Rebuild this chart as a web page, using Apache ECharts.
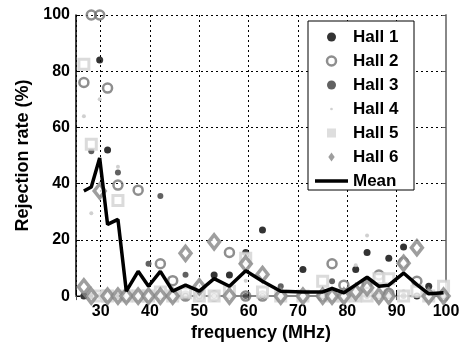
<!DOCTYPE html>
<html>
<head>
<meta charset="utf-8">
<script src="https://cdn.jsdelivr.net/npm/echarts@6/dist/echarts.min.js"></script>
<style>
html, body { margin: 0; padding: 0; background: #fff; }
#chart { width: 463px; height: 347px; }
</style>
</head>
<body>
<div id="chart"></div>
<script>
// measured frequencies (MHz)
const freq = [26.6, 28.1, 29.8, 31.4, 33.5, 35.2, 37.6, 39.7, 42.1, 44.6, 47.2, 50.0, 53.0, 56.1, 59.4,
  62.8, 66.5, 71.0, 75.0, 76.9, 79.3, 81.7, 84.0, 86.4, 88.4, 91.4, 94.1, 96.5, 99.5]

// rejection rate (%) per hall
const hall1 = [0, 0, 84, 52, 0, 0, 0, 0, 0, 0, 0, 0, 7.5, 7.5, 15.5,
  23.5, 0, 9.5, 0, 0, 0, 9.5, 15.5, 0, 13.5, 17.5, 0, 3.5, 0]
const hall2 = [76, 100, 100, 74, 39.5, 0, 37.7, 0, 11.5, 5.5, 0, 0, 0, 15.5, 0,
  0, 0, 0, 0, 11.5, 3.9, 0, 4.5, 7.5, 1, 12, 5.3, 0, 0]
const hall3 = [0, 51.5, 0, 0, 44, 0, 0, 11.5, 35.6, 0, 7.6, 0, 0, 0, 0,
  0, 3.5, 0, 0, 5.3, 0, 0, 0, 0, 0, 0, 0, 0, 1.5]
const hall4 = [64, 29.5, 70, 0, 46, 0, 0, 0, 0, 0, 0, 0, 0, 0, 5.5,
  0, 0, 0, 0, 0, 0, 11, 21.6, 0, 0, 1.75, 0, 0, 0]
const hall5 = [82.5, 54, 0, 0, 34, 0, 0, 0, 1.5, 0, 1.2, 0, 0, 1.75, 13.5,
  1.5, 0, 0, 5.3, 0, 0, 0, 0, 6.2, 6.2, 0, 1.75, 0, 3.5]
const hall6 = [3.3, 0, 37.4, 0, 0, 0, 0, 0, 0, 0, 15.2, 3.3, 19.3, 0, 11.5,
  7.7, 0, 0, 0, 0, 0, 1.5, 3, 0, 0, 11.7, 17.2, 0, 0]
const mean = [37.4, 38.8, 49.1, 25.5, 27.3, 1.75, 8.8, 3.5, 8.8, 1.75, 3.9, 1.75, 6.2, 3.5, 9.0,
  5.3, 1.75, 1.5, 1.5, 2.7, 1.2, 4, 6.7, 3.5, 3.9, 8.2, 4.1, 0.8, 1.2]

function pts(arr) {
  return freq.map((f, i) => [f, arr[i]])
}

const font = "'Liberation Sans', Arial, sans-serif"
const dotted = { color: '#000', type: [2, 3], width: 1 }
const squareIcon = 'path://M0,0L10,0L10,10L0,10Z'
const diamondIcon = 'path://M5,0L10,7L5,14L0,7Z'
const lineIcon = 'path://M0,0L33,0L33,3.5L0,3.5Z'
// tiny dot inside an empty 10x10 frame so the legend keeps it small
const dotIcon = 'path://M0,0L0,0M10,10L10,10M5,3.5A1.5,1.5,0,1,1,5,6.5A1.5,1.5,0,1,1,5,3.5Z'

const chart = echarts.init(document.getElementById('chart'))
const option = {
  animation: false,
  backgroundColor: '#fff',
  textStyle: { fontFamily: font },
  grid: { left: 76, right: 17, top: 15, bottom: 47 },
  legend: {
    orient: 'vertical',
    left: 308,
    top: 21,
    padding: [7, 5, 0, 7],
    itemGap: 6,
    itemWidth: 33,
    itemHeight: 9,
    symbolKeepAspect: true,
    backgroundColor: '#fff',
    borderColor: '#000',
    borderWidth: 1,
    textStyle: { fontFamily: font, fontWeight: 'bold', fontSize: 17, color: '#000', lineHeight: 18, width: 56 },
    data: [
      { name: 'Hall 1' },
      { name: 'Hall 2', itemStyle: { borderWidth: 2.5 } },
      { name: 'Hall 3' },
      { name: 'Hall 4', icon: dotIcon, itemStyle: { borderWidth: 0 } },
      { name: 'Hall 5', icon: squareIcon, itemStyle: { color: '#d6d6d6', borderWidth: 0 } },
      { name: 'Hall 6', icon: diamondIcon, itemStyle: { color: '#868686', borderWidth: 0 } },
      { name: 'Mean', icon: lineIcon }
    ]
  },
  xAxis: [
    {
      type: 'value',
      min: 25,
      max: 100,
      splitNumber: 8,
      name: 'frequency (MHz)',
      nameLocation: 'middle',
      nameGap: 24,
      nameTextStyle: { fontFamily: font, fontWeight: 'bold', fontSize: 18, color: '#000' },
      axisLine: { lineStyle: { color: '#555', width: 1.5 } },
      axisTick: { inside: true, length: 4, lineStyle: { color: '#000' } },
      axisLabel: {
        margin: 7, fontSize: 16, fontWeight: 'bold', color: '#000',
        formatter: v => (v % 10 === 0 ? v : '')
      },
      splitLine: { show: true, lineStyle: dotted }
    },
    {
      type: 'value',
      position: 'top',
      min: 25,
      max: 100,
      splitNumber: 8,
      axisLine: { lineStyle: { color: '#888', width: 2 } },
      axisTick: { inside: true, length: 4, lineStyle: { color: '#555' } },
      axisLabel: { show: false },
      splitLine: { show: false }
    }
  ],
  yAxis: [
    {
      type: 'value',
      min: 0,
      max: 100,
      interval: 20,
      name: 'Rejection rate (%)',
      nameLocation: 'middle',
      nameGap: 37,
      nameTextStyle: { fontFamily: font, fontWeight: 'bold', fontSize: 18, color: '#000' },
      axisLine: { show: true, lineStyle: { color: '#000', width: 1.5 } },
      axisTick: { show: true, inside: true, length: 4, lineStyle: { color: '#000' } },
      axisLabel: { margin: 6, fontSize: 16, fontWeight: 'bold', color: '#000' },
      splitLine: { show: true, lineStyle: dotted }
    },
    {
      type: 'value',
      position: 'right',
      min: 0,
      max: 100,
      interval: 20,
      axisLine: { show: true, lineStyle: { color: '#888', width: 2 } },
      axisTick: { show: true, inside: true, length: 4, lineStyle: { color: '#555' } },
      axisLabel: { show: false },
      splitLine: { show: false }
    }
  ],
  series: [
    {
      name: 'Hall 1', type: 'scatter', symbol: 'circle', symbolSize: 7,
      itemStyle: { color: '#000' },
      data: pts(hall1)
    },
    {
      name: 'Hall 2', type: 'scatter', symbol: 'circle', symbolSize: 9,
      itemStyle: { color: 'rgba(255,255,255,0)', borderColor: '#727272', borderWidth: 2.5 },
      data: pts(hall2)
    },
    {
      name: 'Hall 3', type: 'scatter', symbol: 'circle', symbolSize: 6,
      itemStyle: { color: '#3a3a3a' },
      data: pts(hall3)
    },
    {
      name: 'Hall 4', type: 'scatter', symbol: 'circle', symbolSize: 4,
      itemStyle: { color: '#c4c4c4' },
      data: pts(hall4)
    },
    {
      name: 'Hall 5', type: 'scatter', symbol: 'rect', symbolSize: 10,
      itemStyle: { color: '#fff', borderColor: '#d2d2d2', borderWidth: 3 },
      data: pts(hall5)
    },
    {
      name: 'Hall 6', type: 'scatter', symbol: 'diamond', symbolSize: [11, 14],
      itemStyle: { color: '#fff', borderColor: '#868686', borderWidth: 3.5 },
      data: pts(hall6)
    },
    {
      name: 'Mean', type: 'line', symbol: 'none', z: 5,
      lineStyle: { color: '#000', width: 3.5 },
      itemStyle: { color: '#000' },
      data: pts(mean)
    }
  ]
}
chart.setOption(option)
</script>
</body>
</html>
